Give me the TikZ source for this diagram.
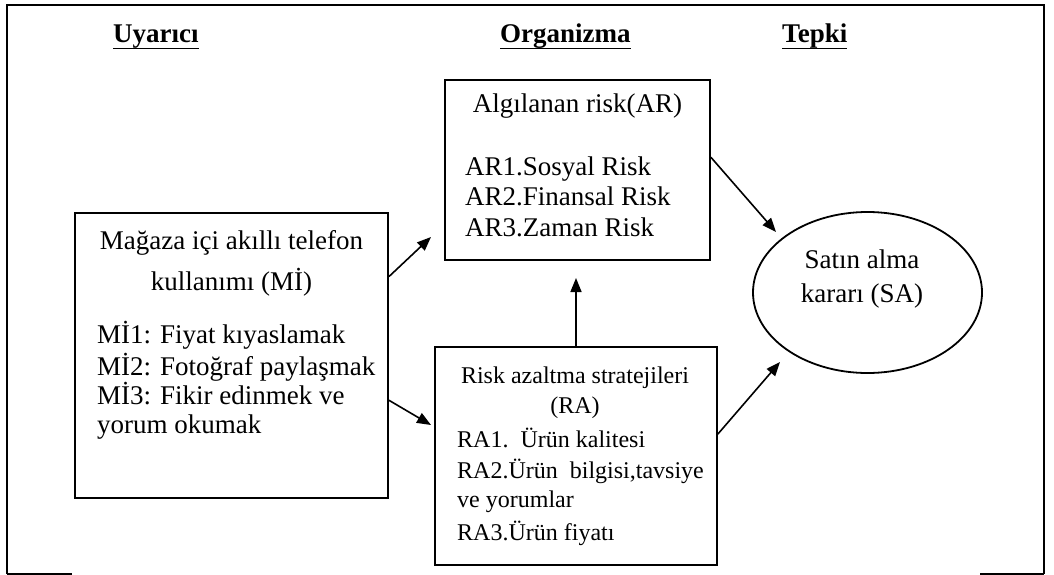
\documentclass[tikz,border=0pt]{standalone}
\usepackage{fontspec}
\setmainfont{Liberation Serif}
\usetikzlibrary{arrows.meta,calc,shapes.geometric}
\begin{document}
\begin{tikzpicture}[x=1pt,y=-1pt,
  box/.style={draw, line width=1.8pt, inner sep=0pt},
  txt/.style={inner sep=0pt, font=\fontsize{27}{30}\selectfont},
  smalltxt/.style={inner sep=0pt, font=\fontsize{24}{28}\selectfont},
  head/.style={inner sep=0pt, font=\fontsize{27}{30}\selectfont\bfseries},
  uline/.style={line width=1.6pt},
  arr/.style={line width=1.6pt, -{Triangle[length=14pt,width=11pt]}},
  frameline/.style={line width=2.2pt}]
\fill[white] (0,0) rectangle (1054,575);
\useasboundingbox (0,0) rectangle (1054,575);

% outer frame
\draw[frameline] (7,574) -- (7,5) -- (1044,5) -- (1044,574);
\draw[frameline] (7,574) -- (72,574);
\draw[frameline] (980,574) -- (1044,574);

% headings
\node[head, anchor=base west] (H1) at (113,43) {Uyarıcı};
\node[head, anchor=base west] (H2) at (500,43) {Organizma};
\node[head, anchor=base west] (H3) at (782,43) {Tepki};
\draw[uline] ([yshift=-5.5pt]H1.base west) -- ([yshift=-5.5pt]H1.base east);
\draw[uline] ([yshift=-5.5pt]H2.base west) -- ([yshift=-5.5pt]H2.base east);
\draw[uline] ([yshift=-5.5pt]H3.base west) -- ([yshift=-5.5pt]H3.base east);

% boxes
\node[box, minimum width=313pt, minimum height=285pt] (MI) at (231.5,355.5) {};
\node[box, minimum width=265pt, minimum height=180pt] (AR) at (577.5,170) {};
\node[box, minimum width=282pt, minimum height=218pt] (RA) at (576,456) {};
\node[box, ellipse, minimum width=229pt, minimum height=161pt] (SA) at (867.5,292.5) {};

% MI text
\node[txt, anchor=base] (MIt1) at (231.5,249) {Mağaza içi akıllı telefon};
\node[txt, anchor=base] (MIt2) at (231.5,290) {kullanımı (Mİ)};
\node[txt, anchor=base west] (MIi1) at (97,343) {Mİ1: Fiyat kıyaslamak};
\node[txt, anchor=base west] (MIi2) at (97,375) {Mİ2: Fotoğraf paylaşmak};
\node[txt, anchor=base west] (MIi3) at (97,404) {Mİ3: Fikir edinmek ve};
\node[txt, anchor=base west] (MIi4) at (97,433) {yorum okumak};

% AR text
\node[txt, anchor=base] (ARt) at (577.5,113) {Algılanan risk(AR)};
\node[txt, anchor=base west] (AR1) at (465,175) {AR1.Sosyal Risk};
\node[txt, anchor=base west] (AR2) at (465,205) {AR2.Finansal Risk};
\node[txt, anchor=base west] (AR3) at (465,236) {AR3.Zaman Risk};

% RA text
\node[smalltxt, anchor=base] (RAt1) at (575,383) {Risk azaltma stratejileri};
\node[smalltxt, anchor=base] (RAt2) at (575,413) {(RA)};
\node[smalltxt, anchor=base west] (RA1) at (457,447) {RA1.\ \ Ürün kalitesi};
\node[smalltxt, anchor=base west] (RA2) at (457,478) {RA2.Ürün\ \ bilgisi,tavsiye};
\node[smalltxt, anchor=base west] (RA3) at (457,507) {ve yorumlar};
\node[smalltxt, anchor=base west] (RA4) at (457,540) {RA3.Ürün fiyatı};

% SA text
\node[txt, anchor=base] (SAt1) at (862,268) {Satın alma};
\node[txt, anchor=base] (SAt2) at (862,302) {kararı (SA)};

% arrows
\coordinate (e1) at (431,237);
\coordinate (e2) at (431,425);
\coordinate (e3) at (576,278);
\coordinate (e4) at (776,232);
\coordinate (e5) at (780,362);
\draw[arr] ($(MI.north east)!0.225!(MI.south east)$) -- (e1);
\draw[arr] ($(MI.north east)!0.656!(MI.south east)$) -- (e2);
\draw[arr] (RA.north) -- (e3);
\draw[arr] ($(AR.north east)!0.43!(AR.south east)$) -- (e4);
\draw[arr] ($(RA.north east)!0.40!(RA.south east)$) -- (e5);
\end{tikzpicture}
\end{document}
